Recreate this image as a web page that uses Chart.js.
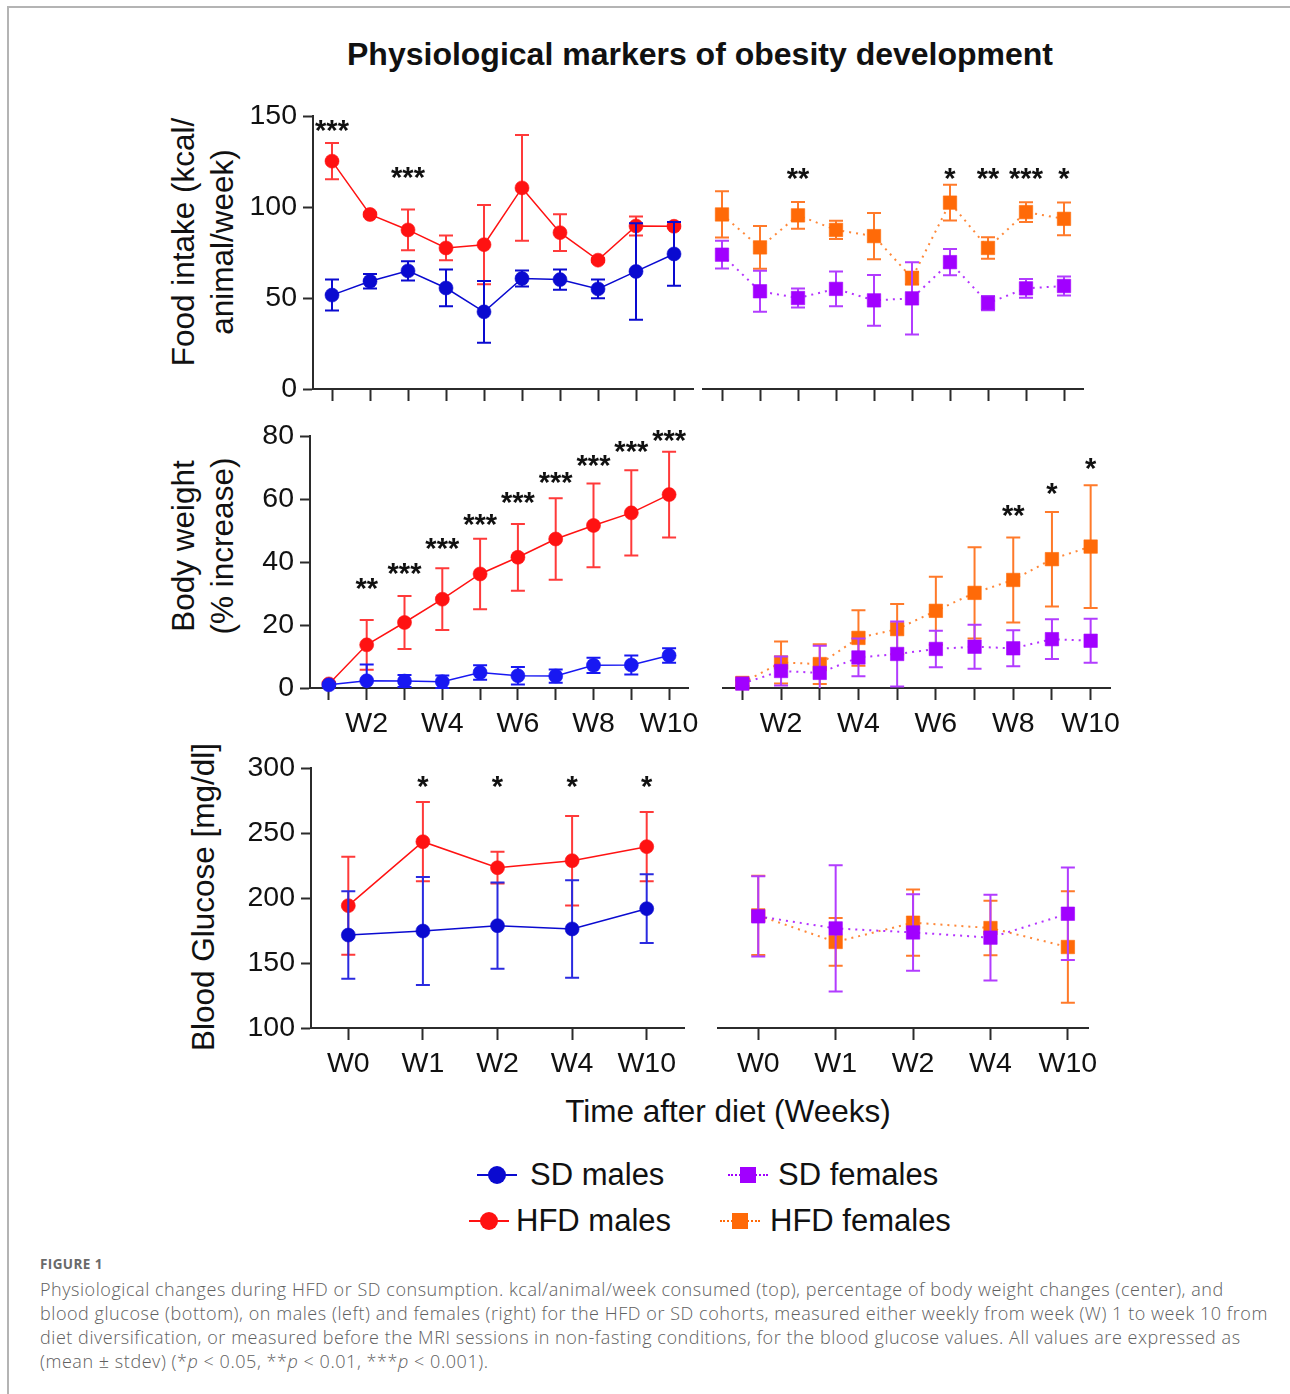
<!DOCTYPE html>
<html>
<head>
<meta charset="utf-8">
<script src="https://cdn.jsdelivr.net/npm/chart.js@4.4.1/dist/chart.umd.min.js"></script>
<style>
  html, body { margin: 0; padding: 0; background: #fff; }
  #fig { position: relative; width: 1290px; height: 1394px; overflow: hidden;
         font-family: "Liberation Sans", Arial, sans-serif; color: #111; }
  #fig canvas { position: absolute; }
  .frameTop { position: absolute; left: 7px; top: 6px; width: 1283px; height: 2px; background: #b4b4b4; }
  .frameLeft { position: absolute; left: 7px; top: 6px; width: 2px; height: 1388px; background: #b4b4b4; }
  .title { position: absolute; left: 200px; width: 1000px; top: 36px; line-height: 36px;
           text-align: center; font-weight: bold; font-size: 32px; }
  .ytitle { position: absolute; white-space: nowrap; font-size: 31.5px; line-height: 36px;
            transform: translate(-50%, -50%) rotate(-90deg); }
  .xtitle { position: absolute; left: 428px; width: 600px; top: 1093px; text-align: center;
            font-size: 31.5px; line-height: 36px; }
  .leg { position: absolute; height: 40px; }
  .leg .ln { position: absolute; top: 19px; width: 40px; height: 0; }
  .leg .mk { position: absolute; }
  .leg .tx { position: absolute; top: 0; left: 52px; font-size: 31px; line-height: 40px; white-space: nowrap; }
  .figlabel { position: absolute; left: 40px; top: 1255px; font-family: "Open Sans", sans-serif;
              font-weight: 700; font-size: 13.5px; color: #6a6a6a; letter-spacing: 0.4px; }
  .caption { position: absolute; left: 40px; top: 1277px; font-family: "Open Sans", sans-serif;
             font-weight: 300; font-size: 18px; line-height: 24px; letter-spacing: 0.55px;
             color: #606060; white-space: nowrap; }
</style>
</head>
<body>
<div id="fig">
  <div class="frameTop"></div>
  <div class="frameLeft"></div>
  <div class="title">Physiological markers of obesity development</div>

  <div class="ytitle" style="left:183px; top:242px;">Food intake (kcal/</div>
  <div class="ytitle" style="left:222px; top:242px;">animal/week)</div>
  <div class="ytitle" style="left:183px; top:546px;">Body weight</div>
  <div class="ytitle" style="left:222px; top:546px;">(% increase)</div>
  <div class="ytitle" style="left:203px; top:897px;">Blood Glucose [mg/dl]</div>
  <div class="xtitle">Time after diet (Weeks)</div>

  <canvas id="foodMales"></canvas>
  <canvas id="foodFemales"></canvas>
  <canvas id="bwMales"></canvas>
  <canvas id="bwFemales"></canvas>
  <canvas id="gluMales"></canvas>
  <canvas id="gluFemales"></canvas>

  <div id="legend"></div>

  <div class="figlabel">FIGURE 1</div>
  <div class="caption">
    Physiological changes during HFD or SD consumption. kcal/animal/week consumed (top), percentage of body weight changes (center), and<br>
    blood glucose (bottom), on males (left) and females (right) for the HFD or SD cohorts, measured either weekly from week (W) 1 to week 10 from<br>
    diet diversification, or measured before the MRI sessions in non-fasting conditions, for the blood glucose values. All values are expressed as<br>
    (mean &plusmn; stdev) (*<i>p</i> &lt; 0.05, **<i>p</i> &lt; 0.01, ***<i>p</i> &lt; 0.001).
  </div>
</div>

<script>
// ---------- categories ----------
const weekLabels = ['W1', 'W2', 'W3', 'W4', 'W5', 'W6', 'W7', 'W8', 'W9', 'W10'];
const glucoseLabels = ['W0', 'W1', 'W2', 'W4', 'W10'];

// ---------- food intake (kcal/animal/week), mean and stdev ----------
const foodSdMales      = [51.6, 59.2, 64.9, 55.5, 42.4, 60.7, 60.1, 55.0, 64.6, 74.2];
const foodSdMalesSd    = [8.5, 4.0, 5.3, 10.1, 17.0, 4.4, 5.5, 5.2, 26.5, 17.5];
const foodHfdMales     = [125.2, 95.9, 87.4, 77.5, 79.3, 110.5, 85.9, 70.8, 89.6, 89.4];
const foodHfdMalesSd   = [10.0, 1.0, 11.2, 6.8, 21.8, 29.0, 10.1, 1.0, 5.2, 1.0];
const foodSdFemales    = [73.8, 53.7, 50.0, 55.0, 48.7, 49.8, 69.7, 47.2, 55.3, 56.6];
const foodSdFemalesSd  = [7.6, 11.3, 5.2, 9.6, 14.0, 19.8, 7.2, 3.9, 5.2, 5.2];
const foodHfdFemales   = [95.9, 77.8, 95.4, 87.4, 84.0, 60.9, 102.4, 77.5, 97.2, 93.5];
const foodHfdFemalesSd = [12.7, 11.7, 7.4, 5.0, 12.7, 3.5, 9.8, 5.9, 5.4, 9.0];

// ---------- body weight (% increase) ----------
const bwSdMales      = [1.0, 2.3, 2.2, 2.0, 4.9, 3.9, 3.8, 7.2, 7.3, 10.3];
const bwSdMalesSd    = [0.5, 5.2, 1.9, 2.0, 2.3, 2.8, 2.1, 2.4, 3.0, 2.3];
const bwHfdMales     = [1.3, 13.7, 20.8, 28.2, 36.2, 41.5, 47.3, 51.6, 55.6, 61.4];
const bwHfdMalesSd   = [0.5, 7.9, 8.4, 9.8, 11.2, 10.6, 12.9, 13.3, 13.5, 13.6];
const bwSdFemales    = [1.4, 5.4, 4.8, 9.7, 10.8, 12.4, 13.1, 12.6, 15.5, 15.0];
const bwSdFemalesSd  = [1.0, 4.6, 8.6, 6.0, 10.3, 5.8, 7.0, 5.7, 6.3, 7.0];
const bwHfdFemales   = [1.6, 8.1, 7.6, 15.9, 18.7, 24.5, 30.2, 34.3, 40.9, 44.9];
const bwHfdFemalesSd = [1.0, 6.7, 6.3, 8.8, 8.0, 10.8, 14.5, 13.5, 15.0, 19.5];

// ---------- blood glucose (mg/dl) ----------
const gluSdMales      = [171.5, 174.6, 178.7, 176.2, 191.8];
const gluSdMalesSd    = [33.7, 41.5, 33.2, 37.5, 26.5];
const gluHfdMales     = [194.1, 243.3, 223.3, 228.7, 239.5];
const gluHfdMalesSd   = [37.7, 30.5, 12.2, 34.4, 26.7];
const gluSdFemales    = [185.9, 176.6, 173.5, 169.5, 187.9];
const gluSdFemalesSd  = [30.9, 48.5, 29.4, 33.0, 35.5];
const gluHfdFemales   = [186.6, 166.2, 181.0, 176.9, 162.3];
const gluHfdFemalesSd = [30.5, 18.4, 25.5, 20.9, 42.8];

// ---------- significance marks (label, and the value the label sits at) ----------
const foodMaleSig      = ['***', '', '***', '', '', '', '', '', '', ''];
const foodMaleSigAt    = [144, 0, 118.5, 0, 0, 0, 0, 0, 0, 0];
const foodFemaleSig    = ['', '', '**', '', '', '', '*', '**', '***', '*'];
const foodFemaleSigAt  = [0, 0, 117.5, 0, 0, 0, 117.5, 117.5, 117.5, 117.5];
const bwMaleSig        = ['', '**', '***', '***', '***', '***', '***', '***', '***', '***'];
const bwMaleSigAt      = [0, 32.7, 37.5, 45.4, 53.1, 60.0, 66.6, 71.7, 76.2, 79.7];
const bwFemaleSig      = ['', '', '', '', '', '', '', '**', '*', '*'];
const bwFemaleSigAt    = [0, 0, 0, 0, 0, 0, 0, 56.0, 62.9, 70.8];
const gluMaleSig       = ['', '*', '*', '*', '*'];
const gluMaleSigAt     = [0, 288.9, 288.9, 288.9, 288.9];

// ---------- style ----------
const FONT = '"Liberation Sans", Arial, Helvetica, sans-serif';
const AXIS = '#2b2b2b';
const BLUE = '#0a0ad0';
const BLUE_BW = '#1818f2';
const RED = '#ff1212';
const PURPLE = '#a100ff';
const ORANGE = '#ff6a08';

// error bars drawn just under each dataset's own line and markers
const errorBars = {
    id: 'errorBars',
    beforeDatasetDraw(chart, args) {
        const ds = chart.data.datasets[args.index];
        if (!ds.errors) return;
        const ys = chart.scales.y;
        const ctx = chart.ctx;
        const floor = chart.chartArea.bottom;
        ctx.save();
        ctx.strokeStyle = ds.errorColor;
        ctx.lineWidth = 2;
        args.meta.data.forEach((pt, i) => {
            const v = ds.data[i].y, e = ds.errors[i];
            const top = ys.getPixelForValue(v + e);
            let bot = ys.getPixelForValue(v - e);
            const clipped = bot > floor;
            if (clipped) bot = floor;
            ctx.beginPath();
            ctx.moveTo(pt.x, top); ctx.lineTo(pt.x, bot);
            ctx.moveTo(pt.x - 7, top); ctx.lineTo(pt.x + 7, top);
            if (!clipped) { ctx.moveTo(pt.x - 7, bot); ctx.lineTo(pt.x + 7, bot); }
            ctx.stroke();
        });
        ctx.restore();
    }
};

// asterisks above the points
const sigStars = {
    id: 'sigStars',
    afterDatasetsDraw(chart, args, opts) {
        if (!opts.labels) return;
        const ctx = chart.ctx, xs = chart.scales.x, ys = chart.scales.y;
        const size = 29;
        ctx.save();
        ctx.font = 'bold ' + size + 'px ' + FONT;
        ctx.textAlign = 'center';
        ctx.textBaseline = 'alphabetic';
        ctx.fillStyle = '#111';
        opts.labels.forEach((s, i) => {
            if (!s) return;
            const x = xs.getPixelForValue(opts.xs[i]);
            const y = ys.getPixelForValue(opts.levels[i]) + size * 0.46;
            ctx.fillText(s, x, y);
        });
        ctx.restore();
    }
};

function series(label, values, errs, color, errColor, kind) {
    return {
        label: label,
        data: values.map((v, i) => ({ x: kind.xs[i], y: v })),
        errors: errs,
        errorColor: errColor,
        borderColor: kind.dotted ? color + 'cc' : color,
        borderWidth: kind.dotted ? 2 : 1.5,
        borderDash: kind.dotted ? [2, 5] : [],
        pointStyle: kind.dotted ? 'rect' : 'circle',
        pointRadius: kind.dotted ? 9.5 : 7,
        pointBackgroundColor: color,
        pointBorderColor: color + '99',
        pointBorderWidth: 1,
        tension: 0,
        clip: false
    };
}

// box = chart area in page pixels
function makePanel(id, box, cfg) {
    const ml = cfg.yAxis ? 110 : 30, mr = 40, mt = 40, mb = 60;
    const el = document.getElementById(id);
    el.style.left = (box.left - ml) + 'px';
    el.style.top = (box.top - mt) + 'px';
    el.width = box.right - box.left + ml + mr;
    el.height = box.bottom - box.top + mt + mb;

    return new Chart(el, {
        type: 'line',
        data: { datasets: cfg.datasets },
        options: {
            responsive: false,
            animation: false,
            events: [],
            layout: { padding: { left: 0, right: mr, top: mt, bottom: 0 } },
            plugins: {
                legend: { display: false },
                tooltip: { enabled: false },
                sigStars: { labels: cfg.sig, levels: cfg.sigAt, xs: cfg.xs }
            },
            scales: {
                x: {
                    type: 'linear',
                    min: cfg.xmin, max: cfg.xmax,
                    afterBuildTicks: s => { s.ticks = cfg.xs.map(v => ({ value: v })); },
                    afterFit: s => { s.height = mb; },
                    border: { display: true, color: AXIS, width: 2 },
                    grid: { drawOnChartArea: false, drawTicks: true, tickLength: 12, tickColor: AXIS, tickWidth: 2 },
                    ticks: {
                        autoSkip: false, maxRotation: 0, padding: 7,
                        color: '#111', font: { family: FONT, size: 28.5 },
                        callback: (v, i) => cfg.tickText(i)
                    }
                },
                y: {
                    display: cfg.yAxis,
                    min: cfg.ymin, max: cfg.ymax,
                    afterFit: s => { s.width = ml; },
                    border: { display: true, color: AXIS, width: 2 },
                    grid: { drawOnChartArea: false, drawTicks: true, tickLength: 10, tickColor: AXIS, tickWidth: 2 },
                    ticks: { stepSize: cfg.step, padding: 6, color: '#111', font: { family: FONT, size: 28.5 } }
                }
            }
        },
        plugins: [errorBars, sigStars]
    });
}

const weekXs = weekLabels.map((w, i) => i + 1);
const gluXs = glucoseLabels.map((w, i) => i);
const males = xs => ({ xs: xs, dotted: false });
const females = xs => ({ xs: xs, dotted: true });
const noText = () => '';
const evenWeeks = i => (i % 2 === 1 ? weekLabels[i] : '');
const gluText = i => glucoseLabels[i];

// ---------- top row: food intake ----------
makePanel('foodMales', { left: 313, right: 693, top: 116, bottom: 389 }, {
    yAxis: true, ymin: 0, ymax: 150, step: 50, xmin: 0.5, xmax: 10.5, xs: weekXs, tickText: noText,
    sig: foodMaleSig, sigAt: foodMaleSigAt,
    datasets: [
        series('SD males', foodSdMales, foodSdMalesSd, BLUE, BLUE, males(weekXs)),
        series('HFD males', foodHfdMales, foodHfdMalesSd, RED, '#ff3a3a', males(weekXs))
    ]
});
makePanel('foodFemales', { left: 703, right: 1083, top: 116, bottom: 389 }, {
    yAxis: false, ymin: 0, ymax: 150, step: 50, xmin: 0.5, xmax: 10.5, xs: weekXs, tickText: noText,
    sig: foodFemaleSig, sigAt: foodFemaleSigAt,
    datasets: [
        series('SD females', foodSdFemales, foodSdFemalesSd, PURPLE, '#b23cff', females(weekXs)),
        series('HFD females', foodHfdFemales, foodHfdFemalesSd, ORANGE, '#ff7a2a', females(weekXs))
    ]
});

// ---------- middle row: body weight ----------
makePanel('bwMales', { left: 310, right: 688, top: 436, bottom: 688 }, {
    yAxis: true, ymin: 0, ymax: 80, step: 20, xmin: 0.5, xmax: 10.5, xs: weekXs, tickText: evenWeeks,
    sig: bwMaleSig, sigAt: bwMaleSigAt,
    datasets: [
        series('SD males', bwSdMales, bwSdMalesSd, BLUE_BW, BLUE_BW, males(weekXs)),
        series('HFD males', bwHfdMales, bwHfdMalesSd, RED, '#ff3a3a', males(weekXs))
    ]
});
makePanel('bwFemales', { left: 723, right: 1110, top: 436, bottom: 688 }, {
    yAxis: false, ymin: 0, ymax: 80, step: 20, xmin: 0.5, xmax: 10.5, xs: weekXs, tickText: evenWeeks,
    sig: bwFemaleSig, sigAt: bwFemaleSigAt,
    datasets: [
        series('SD females', bwSdFemales, bwSdFemalesSd, PURPLE, '#b23cff', females(weekXs)),
        series('HFD females', bwHfdFemales, bwHfdFemalesSd, ORANGE, '#ff7a2a', females(weekXs))
    ]
});

// ---------- bottom row: blood glucose ----------
makePanel('gluMales', { left: 311, right: 684, top: 768, bottom: 1028 }, {
    yAxis: true, ymin: 100, ymax: 300, step: 50, xmin: -0.5, xmax: 4.5, xs: gluXs, tickText: gluText,
    sig: gluMaleSig, sigAt: gluMaleSigAt,
    datasets: [
        series('SD males', gluSdMales, gluSdMalesSd, BLUE, '#2a2ae0', males(gluXs)),
        series('HFD males', gluHfdMales, gluHfdMalesSd, RED, '#ff3a3a', males(gluXs))
    ]
});
makePanel('gluFemales', { left: 718, right: 1088, top: 768, bottom: 1028 }, {
    yAxis: false, ymin: 100, ymax: 300, step: 50, xmin: -0.52, xmax: 4.26, xs: gluXs, tickText: gluText,
    sig: null, sigAt: null,
    datasets: [
        series('SD females', gluSdFemales, gluSdFemalesSd, PURPLE, '#b23cff', females(gluXs)),
        series('HFD females', gluHfdFemales, gluHfdFemalesSd, ORANGE, '#ff7a2a', females(gluXs))
    ]
});

// ---------- legend ----------
const legendItems = [
    { text: 'SD males', color: BLUE, dotted: false, left: 477, top: 1155 },
    { text: 'SD females', color: PURPLE, dotted: true, left: 728, top: 1155 },
    { text: 'HFD males', color: RED, dotted: false, left: 469, top: 1201 },
    { text: 'HFD females', color: ORANGE, dotted: true, left: 720, top: 1201 }
];
const legend = document.getElementById('legend');
legendItems.forEach(it => {
    const d = document.createElement('div');
    d.className = 'leg';
    d.style.left = it.left + 'px';
    d.style.top = it.top + 'px';
    const line = it.dotted
        ? `<div class="ln" style="border-top:2px dotted ${it.color};"></div>`
        : `<div class="ln" style="border-top:2px solid ${it.color};"></div>`;
    const mk = it.dotted
        ? `<div class="mk" style="left:12px;top:12px;width:16px;height:16px;background:${it.color};"></div>`
        : `<div class="mk" style="left:11px;top:11px;width:18px;height:18px;border-radius:50%;background:${it.color};"></div>`;
    const txLeft = it.dotted ? 50 : (it.text === 'SD males' ? 53 : 47);
    d.innerHTML = line + mk + `<div class="tx" style="left:${txLeft}px">${it.text}</div>`;
    legend.appendChild(d);
});
</script>
</body>
</html>
